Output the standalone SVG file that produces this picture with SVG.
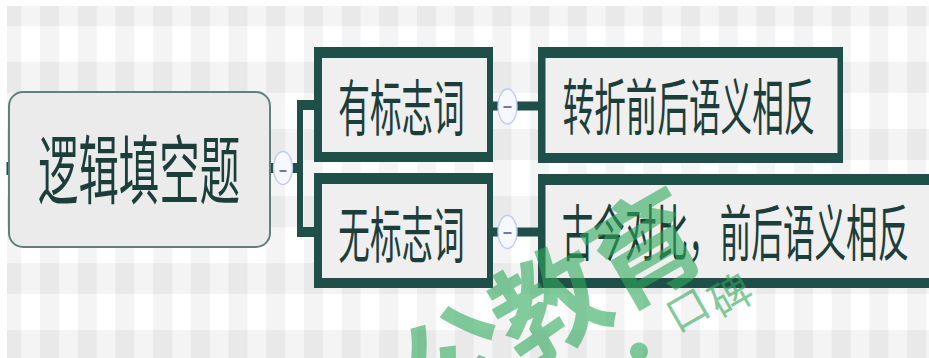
<svg xmlns="http://www.w3.org/2000/svg" width="929" height="358" viewBox="0 0 929 358">
  <defs>
    <pattern id="bg" patternUnits="userSpaceOnUse" x="2.3" y="-5" width="37.7" height="67">
      <rect x="0" y="0" width="37.7" height="67" fill="#ffffff"/>
      <rect x="0" y="0" width="19" height="67" fill="#000" fill-opacity="0.045"/>
      <rect x="0" y="0" width="37.7" height="31" fill="#000" fill-opacity="0.045"/>
    </pattern>
    <style>
      .frame { fill: #1f4f49; }
      .inner { fill: #efefef; }
      .root { fill: #ebebeb; stroke: #5f817b; stroke-width: 2; }
      .t1 { font-family: "Noto Sans CJK SC", "Liberation Sans", sans-serif; font-size: 75px; fill: #1c3e3a; }
      .t2 { font-family: "Noto Sans CJK SC", "Liberation Sans", sans-serif; font-size: 61px; fill: #1c3e3a; }
      .conn { stroke: #1f4f49; fill: none; }
      .tog { fill: #f7f8ff; stroke: #bfcaf0; stroke-width: 1.3; }
      .minus { stroke: #6f78b0; stroke-width: 2; }
      .wm { font-family: "Noto Sans CJK SC", "Liberation Sans", sans-serif; fill: #2fa85a; fill-opacity: 0.6; text-anchor: middle; dominant-baseline: central; }
      .wmb { font-size: 112px; font-weight: 700; }
      .wms { font-size: 42px; }
    </style>
  </defs>

  <rect x="0" y="0" width="929" height="358" fill="#ffffff"/>
  <rect x="7" y="6" width="922" height="352" fill="url(#bg)"/>

  <g id="connectors">
    <rect x="6.5" y="162" width="3" height="13" fill="#1f4f49"/>
    <line class="conn" x1="269" y1="168" x2="300" y2="168" stroke-width="10"/>
    <line class="conn" x1="300" y1="100" x2="300" y2="237" stroke-width="6"/>
    <line class="conn" x1="297" y1="105" x2="316" y2="105" stroke-width="10"/>
    <line class="conn" x1="297" y1="232" x2="316" y2="232" stroke-width="10"/>
    <line class="conn" x1="491" y1="106" x2="540" y2="106" stroke-width="9"/>
    <line class="conn" x1="491" y1="232" x2="540" y2="232" stroke-width="9"/>
    <g id="toggle-root">
      <ellipse class="tog" cx="283" cy="168" rx="9.5" ry="16.5"/>
      <line class="minus" x1="279.5" y1="171" x2="286.5" y2="171"/>
    </g>
    <g id="toggle-1">
      <ellipse class="tog" cx="507.5" cy="106.5" rx="9.5" ry="17.5"/>
      <line class="minus" x1="503.5" y1="107" x2="511.5" y2="107"/>
    </g>
    <g id="toggle-2">
      <ellipse class="tog" cx="507.5" cy="232" rx="9.5" ry="16.5"/>
      <line class="minus" x1="503.5" y1="233" x2="511.5" y2="233"/>
    </g>
  </g>

  <g id="node-root">
    <rect class="root" x="9" y="92" width="261" height="155" rx="14" ry="14"/>
    <text class="t1" text-anchor="middle" transform="translate(139,198) scale(0.539,1)">逻辑填空题</text>
  </g>

  <g id="node-youbiaozhici">
    <rect class="frame" x="314" y="47" width="179" height="115"/>
    <rect class="inner" x="322" y="58" width="165" height="94"/>
    <text class="t2" text-anchor="middle" transform="translate(401.5,130.5) scale(0.518,1)">有标志词</text>
  </g>

  <g id="node-wubiaozhici">
    <rect class="frame" x="314" y="173" width="179" height="115"/>
    <rect class="inner" x="322" y="184" width="165" height="94"/>
    <text class="t2" text-anchor="middle" transform="translate(401.5,257.5) scale(0.518,1)">无标志词</text>
  </g>

  <g id="node-zhuanzhe">
    <rect class="frame" x="538" y="47" width="305" height="116"/>
    <rect class="inner" x="545.5" y="58" width="292" height="95"/>
    <text class="t2" text-anchor="middle" transform="translate(689,130) scale(0.518,1)">转折前后语义相反</text>
  </g>

  <g id="node-gujin">
    <rect class="frame" x="538" y="174" width="420" height="114"/>
    <rect class="inner" x="545.5" y="185" width="420" height="93"/>
    <text class="t2" text-anchor="middle" transform="translate(735.5,255.5) scale(0.518,1)">古今对比，前后语义相反</text>
  </g>

  <g id="watermark">
    <text class="wm wmb" transform="translate(358,410) rotate(-30)">中</text>
    <text class="wm wmb" transform="translate(452,355) rotate(-30)">公</text>
    <text class="wm wmb" transform="translate(546,298) rotate(-30)">教</text>
    <text class="wm wmb" transform="translate(641,242) rotate(-30)">育</text>
    <text class="wm wms" style="font-size:70px;font-weight:700" transform="translate(637,348) rotate(-30)">·</text>
    <text class="wm wms" transform="translate(686,307) rotate(-30)">口</text>
    <text class="wm wms" transform="translate(729,293) rotate(-30)">碑</text>
  </g>
</svg>
